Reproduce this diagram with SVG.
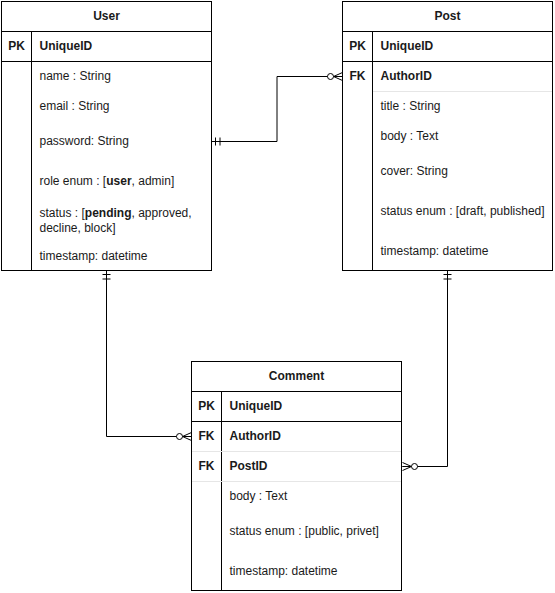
<svg xmlns="http://www.w3.org/2000/svg" width="555" height="593" viewBox="0 0 555 593">
<style>
text{font-family:"Liberation Sans",Arial,sans-serif;font-size:12px;fill:#1a1a1a}
.t{font-weight:bold;text-anchor:middle}
.k{font-weight:bold;text-anchor:middle}
.b{font-weight:bold}
.box{fill:#fff;stroke:#000;stroke-width:1}
.ln{stroke:#000;stroke-width:1;fill:none}
.lt{stroke:#e6e6e6;stroke-width:1;fill:none}
.edge{stroke:#000;stroke-width:1;fill:none}
</style>
<defs>
<marker id="one" markerUnits="userSpaceOnUse" orient="auto-start-reverse" refX="0" refY="0" markerWidth="20" markerHeight="20" style="overflow:visible">
<path d="M-4,-4 L-4,4 M-8.5,-4 L-8.5,4" stroke="#000" stroke-width="1" fill="none"/>
</marker>
<marker id="zmany" markerUnits="userSpaceOnUse" orient="auto-start-reverse" refX="0" refY="0" markerWidth="20" markerHeight="20" style="overflow:visible">
<path d="M-9,0 L0,-4 M-9,0 L0,4 M-9,0 L0,0" stroke="#000" stroke-width="1" fill="none"/>
<circle cx="-12" cy="0" r="3" fill="#fff" stroke="#000" stroke-width="1"/>
</marker>
</defs>

<g id="connectors">
<path class="edge" d="M211.5,141.5 L277,141.5 L277,76.5 L342.5,76.5" marker-start="url(#one)" marker-end="url(#zmany)"/>
<path class="edge" d="M106.5,270.5 L106.5,436.5 L191.5,436.5" marker-start="url(#one)" marker-end="url(#zmany)"/>
<path class="edge" d="M447.5,270.5 L447.5,466.5 L402.5,466.5" marker-start="url(#one)" marker-end="url(#zmany)"/>
</g>

<g id="user">
<rect class="box" x="1.5" y="1.5" width="210" height="269"/>
<path class="ln" d="M1.5,31.5 H211.5 M1.5,61.5 H211.5 M31.5,31.5 V270.5"/>
<text class="t" x="106.5" y="20">User</text>
<text class="k" x="16.5" y="50">PK</text>
<text class="b" x="39.5" y="50">UniqueID</text>
<text x="39.5" y="79.5">name : String</text>
<text x="39.5" y="109.5">email : String</text>
<text x="39.5" y="144.5">password: String</text>
<text x="39.5" y="184.5">role enum : [<tspan class="b">user</tspan>, admin]</text>
<text x="39.5" y="216.5">status : [<tspan class="b">pending</tspan>, approved,</text>
<text x="39.5" y="231.5">decline, block]</text>
<text x="39.5" y="259.5">timestamp: datetime</text>
</g>

<g id="post">
<rect class="box" x="342.5" y="1.5" width="210" height="269"/>
<path class="ln" d="M342.5,31.5 H552.5 M342.5,61.5 H552.5 M372.5,31.5 V270.5"/>
<path class="lt" d="M373,91.5 H552"/>
<text class="t" x="447.5" y="20">Post</text>
<text class="k" x="357.5" y="50">PK</text>
<text class="b" x="380.5" y="50">UniqueID</text>
<text class="k" x="357.5" y="80">FK</text>
<text class="b" x="380.5" y="80">AuthorID</text>
<text x="380.5" y="109.5">title : String</text>
<text x="380.5" y="139.5">body : Text</text>
<text x="380.5" y="174.5">cover: String</text>
<text x="380.5" y="214.5">status enum : [draft, published]</text>
<text x="380.5" y="254.5">timestamp: datetime</text>
</g>

<g id="comment">
<rect class="box" x="191.5" y="361.5" width="210" height="229"/>
<path class="ln" d="M191.5,391.5 H401.5 M191.5,421.5 H401.5 M221.5,391.5 V590.5"/>
<path class="lt" d="M192,451.5 H401 M192,481.5 H401"/>
<text class="t" x="296.5" y="380">Comment</text>
<text class="k" x="206.5" y="410">PK</text>
<text class="b" x="229.5" y="410">UniqueID</text>
<text class="k" x="206.5" y="440">FK</text>
<text class="b" x="229.5" y="440">AuthorID</text>
<text class="k" x="206.5" y="470">FK</text>
<text class="b" x="229.5" y="470">PostID</text>
<text x="229.5" y="499.5">body : Text</text>
<text x="229.5" y="534.5">status enum : [public, privet]</text>
<text x="229.5" y="574.5">timestamp: datetime</text>
</g>
</svg>
